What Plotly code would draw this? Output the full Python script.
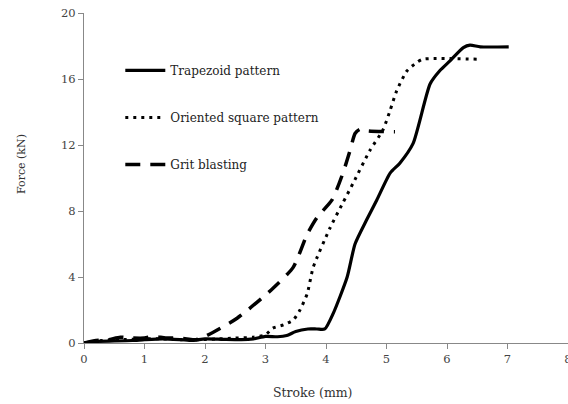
import plotly.graph_objects as go

# Trapezoid pattern (solid)
trap_x = [0, 0.2, 0.5, 0.8, 1.0, 1.3, 1.6, 1.8, 2.0, 2.3, 2.6, 2.8, 3.0, 3.2, 3.35, 3.5, 3.7, 3.85, 3.98, 4.12, 4.35, 4.48, 4.67, 4.84, 5.06, 5.22, 5.44, 5.72, 5.88, 6.05, 6.27, 6.38, 6.55, 7.02]
trap_y = [0, 0.1, 0.12, 0.15, 0.2, 0.25, 0.2, 0.15, 0.25, 0.22, 0.2, 0.25, 0.4, 0.38, 0.45, 0.7, 0.85, 0.85, 0.85, 1.8, 4.0, 6.0, 7.45, 8.67, 10.3, 10.9, 12.1, 15.7, 16.5, 17.1, 17.9, 18.05, 17.95, 17.95]

# Oriented square pattern (dotted)
sq_x = [0, 0.3, 0.6, 1.0, 1.3, 1.6, 1.9, 2.2, 2.5, 2.8, 3.0, 3.12, 3.3, 3.46, 3.57, 3.69, 3.79, 4.07, 4.28, 4.45, 4.73, 4.94, 5.06, 5.17, 5.34, 5.50, 5.60, 6.5]
sq_y = [0, 0.15, 0.2, 0.25, 0.25, 0.2, 0.2, 0.25, 0.3, 0.35, 0.5, 0.9, 1.1, 1.4, 2.0, 3.0, 4.6, 7.0, 8.5, 9.7, 11.7, 12.9, 14.1, 15.3, 16.5, 17.0, 17.2, 17.2]

# Grit blasting (dashed)
grit_x = [0, 0.2, 0.4, 0.6, 0.8, 1.0, 1.15, 1.35, 1.55, 1.7, 1.85, 2.03, 2.53, 3.12, 3.46, 3.69, 3.85, 4.1, 4.28, 4.40, 4.48, 4.56, 4.7, 5.14]
grit_y = [0, 0.15, 0.2, 0.35, 0.3, 0.3, 0.4, 0.3, 0.3, 0.25, 0.2, 0.45, 1.5, 3.3, 4.6, 6.6, 7.6, 8.67, 10.3, 11.7, 12.7, 12.95, 12.85, 12.8]

names = ["Trapezoid pattern", "Oriented square pattern", "Grit blasting"]
x_ticks = [0, 1, 2, 3, 4, 5, 6, 7, 8]
y_ticks = [0, 4, 8, 12, 16, 20]

FONT = "DejaVu Serif"

fig = go.Figure()
fig.add_trace(go.Scatter(x=trap_x, y=trap_y, mode="lines", name=names[0], legendgroup="a",
                         line=dict(color="black", width=3.2, shape="spline", smoothing=0.6)))
fig.add_trace(go.Scatter(x=sq_x, y=sq_y, mode="lines", name=names[1], legendgroup="b",
                         line=dict(color="black", width=3, dash="3px,5px", shape="spline", smoothing=0.6)))
fig.add_trace(go.Scatter(x=grit_x, y=grit_y, mode="lines", name=names[2], legendgroup="c",
                         line=dict(color="black", width=3.5, dash="15px,10px", shape="spline", smoothing=0.6)))

fig.update_layout(
    width=568, height=404,
    margin=dict(l=84, r=0, t=13, b=61),
    paper_bgcolor="white", plot_bgcolor="white",
    font=dict(family=FONT, size=11, color="#333333"),
    showlegend=True,
    legend=dict(x=0.075, y=0.87, xanchor="left", yanchor="top",
                bgcolor="rgba(0,0,0,0)", font=dict(family=FONT, size=12, color="#222222"),
                tracegroupgap=28, itemwidth=40),
    xaxis=dict(range=[0, 8], tickvals=x_ticks, ticktext=[str(v) for v in x_ticks],
               showgrid=False, zeroline=False, showline=True, linecolor="#888888", linewidth=1,
               ticks="outside", ticklen=5, tickcolor="#888888", automargin=False,
               ticklabeloverflow="allow",
               tickfont=dict(family=FONT, size=11.5, color="#444444")),
    yaxis=dict(range=[0, 20], tickvals=y_ticks, ticktext=[str(v) for v in y_ticks],
               showgrid=False, zeroline=False, showline=True, linecolor="#888888", linewidth=1,
               ticks="outside", ticklen=5, tickcolor="#888888", automargin=False,
               tickfont=dict(family=FONT, size=11.5, color="#444444")),
    annotations=[
        dict(text="Stroke (mm)", xref="paper", yref="paper", x=(313 - 84) / 484, y=-(392 - 343) / 330,
             xanchor="center", yanchor="middle", showarrow=False,
             font=dict(family=FONT, size=12.5, color="#333333")),
        dict(text="Force (kN)", xref="paper", yref="paper", x=-(84 - 22) / 484, y=(343 - 164) / 330,
             xanchor="center", yanchor="middle", showarrow=False, textangle=-90,
             font=dict(family=FONT, size=11, color="#333333")),
    ],
)

fig.write_html("out.html", config={"displayModeBar": False},
               post_script="document.body.style.margin='0';document.body.style.overflow='hidden';")
